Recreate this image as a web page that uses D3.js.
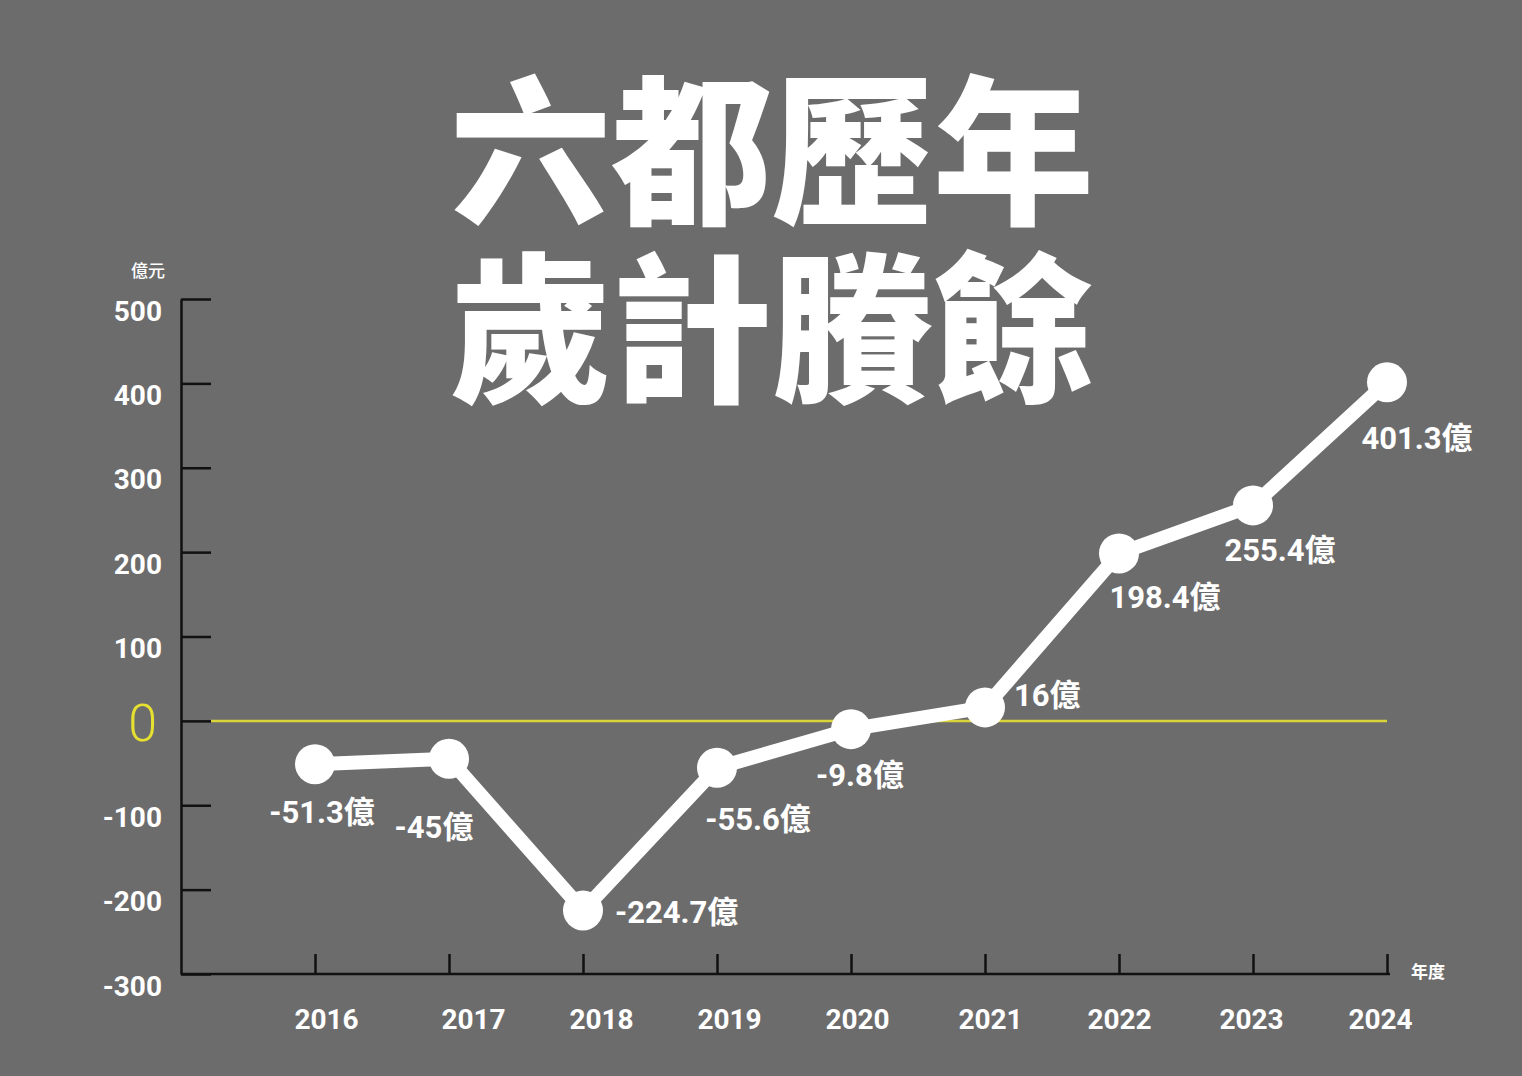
<!DOCTYPE html>
<html><head><meta charset="utf-8">
<script src="https://cdn.jsdelivr.net/npm/d3@7"></script>
<style>
html,body{margin:0;padding:0;background:#6d6c6d;}
svg{display:block;}
</style></head>
<body>
<svg id="chart" width="1522" height="1076"></svg>
<script>
const years = [2016, 2017, 2018, 2019, 2020, 2021, 2022, 2023, 2024];
const surplus = [-51.3, -45, -224.7, -55.6, -9.8, 16, 198.4, 255.4, 401.3];
const valueLabels = ["-51.3億", "-45億", "-224.7億", "-55.6億", "-9.8億", "16億", "198.4億", "255.4億", "401.3億"];
const yTicks = [-300, -200, -100, 0, 100, 200, 300, 400, 500];
const titleLines = ["六都歷年", "歲計賸餘"];
const yUnit = "億元";
const xUnit = "年度";

// layout (not data)
const labelLayout = [[7,48,"middle"],[-15,69,"middle"],[32,2,"start"],[41,52,"middle"],[9,46,"middle"],[29,-12,"start"],[46,44,"middle"],[27,45,"middle"],[30,56,"middle"]];
const yearNudge = [11, 24, 18, 12, 6, 5, 0, -2, -7];

const svg = d3.select("#chart");
const W = 1522, H = 1076;
svg.append("rect").attr("width", W).attr("height", H).attr("fill", "#6d6c6d");

const x = d3.scalePoint().domain(years).range([315, 1387]);
const y = d3.scaleLinear().domain([-300, 500]).range([974, 299]);
const axisX0 = 181;

const num = "Roboto, 'Noto Sans CJK TC', sans-serif";
const cjk = "'Noto Sans CJK TC', 'Noto Sans CJK SC', sans-serif";

// title
svg.append("g").selectAll("text").data(titleLines).join("text")
  .attr("x", 772).attr("y", (d, i) => 212 + i * 178)
  .attr("text-anchor", "middle")
  .attr("font-family", cjk).attr("font-weight", 900).attr("font-size", 161)
  .attr("fill", "#ffffff").text(d => d);

// y axis
const yAxis = d3.axisLeft(y).tickValues(yTicks).tickSizeInner(-30).tickSizeOuter(0).tickPadding(19)
  .tickFormat(d => d === 0 ? "0" : String(d));
const gy = svg.append("g").attr("transform", `translate(${axisX0},0)`).call(yAxis);
gy.select(".domain").attr("stroke", "#111").attr("stroke-width", 2.5);
gy.selectAll(".tick line").attr("stroke", "#111").attr("stroke-width", 2.5);
gy.selectAll(".tick text")
  .attr("fill", "#ffffff").attr("font-family", num).attr("font-weight", 700).attr("font-size", 28)
  .attr("dy", "0.36em").attr("y", 11);
gy.selectAll(".tick text").filter(d => d === 0)
  .attr("fill", "#e6e030").attr("font-weight", 300).attr("font-size", 52)
  .attr("dy", "0.36em").attr("y", 1).attr("x", -24);

// x axis
const xAxis = d3.axisBottom(x).tickSizeInner(-20).tickSizeOuter(0).tickPadding(35).tickFormat(d => String(d));
const gx = svg.append("g").attr("transform", `translate(0,${y(-300)})`).call(xAxis);
gx.select(".domain").attr("d", `M${axisX0},0H${x(2024) + 3}`).attr("stroke", "#111").attr("stroke-width", 2.5);
gx.selectAll(".tick line").attr("stroke", "#111").attr("stroke-width", 2.5);
gx.selectAll(".tick text")
  .attr("fill", "#ffffff").attr("font-family", num).attr("font-weight", 700).attr("font-size", 28)
  .attr("x", (d, i) => yearNudge[i]);

// units
svg.append("text").attr("x", 148).attr("y", 277).attr("text-anchor", "middle")
  .attr("font-family", cjk).attr("font-weight", 500).attr("font-size", 17).attr("fill", "#fff").text(yUnit);
svg.append("text").attr("x", 1428).attr("y", 978).attr("text-anchor", "middle")
  .attr("font-family", cjk).attr("font-weight", 700).attr("font-size", 17).attr("fill", "#fff").text(xUnit);

// zero line
svg.append("line").attr("x1", axisX0 + 30).attr("x2", x(2024)).attr("y1", y(0)).attr("y2", y(0))
  .attr("stroke", "#d9d43a").attr("stroke-width", 2.5);

// series line
const pts = years.map((yr, i) => ({yr, v: surplus[i], lab: valueLabels[i], lay: labelLayout[i]}));
svg.append("path").datum(pts)
  .attr("d", d3.line().x(d => x(d.yr)).y(d => y(d.v)))
  .attr("fill", "none").attr("stroke", "#ffffff").attr("stroke-width", 14).attr("stroke-linejoin", "round");
svg.append("g").selectAll("circle").data(pts).join("circle")
  .attr("cx", d => x(d.yr)).attr("cy", d => y(d.v)).attr("r", 20).attr("fill", "#ffffff");

// value labels
svg.append("g").selectAll("text").data(pts).join("text")
  .attr("x", d => x(d.yr) + d.lay[0]).attr("y", d => y(d.v) + d.lay[1])
  .attr("text-anchor", d => d.lay[2]).attr("dominant-baseline", "central")
  .attr("font-family", num).attr("font-weight", 700).attr("font-size", 31)
  .attr("fill", "#ffffff").text(d => d.lab);
</script>
</body></html>
